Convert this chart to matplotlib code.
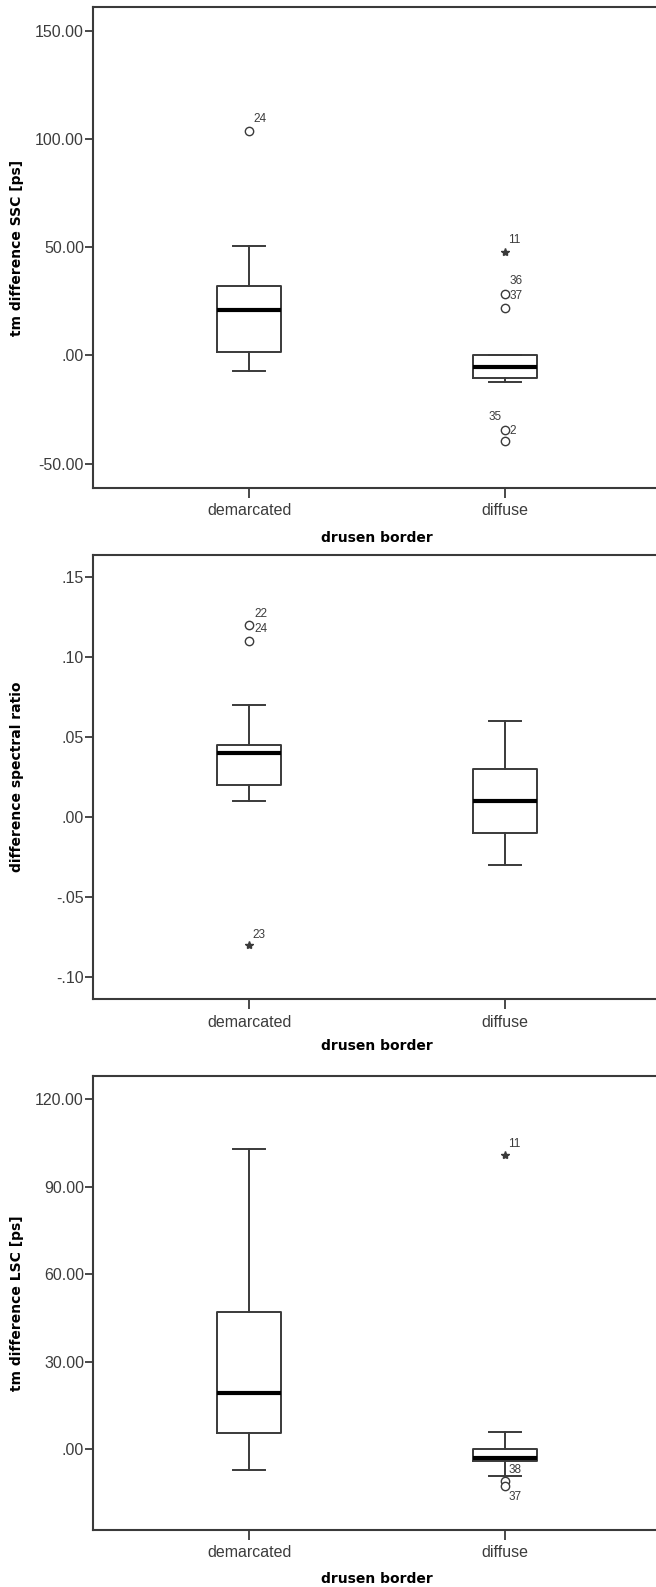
"""
Boxplots of drusen border groups (SSC, spectral ratio, LSC)
"""
import matplotlib.pyplot as plt
from matplotlib.ticker import FuncFormatter, MultipleLocator

groups = ['demarcated', 'diffuse']
x_title = 'drusen border'

# tm difference SSC [ps]
ssc_whislo = [-7.2, -12.4]
ssc_q1 = [1.8, -10.3]
ssc_med = [20.9, -5.1]
ssc_q3 = [32.3, 0.0]
ssc_whishi = [50.8, 0.0]
ssc_out_grp = [0, 1, 1, 1, 1]
ssc_out_val = [103.7, 28.6, 21.9, -34.4, -39.4]
ssc_out_id = ['24', '36', '37', '35', '2']
ssc_ext_grp = [1]
ssc_ext_val = [47.9]
ssc_ext_id = ['11']

# difference spectral ratio
sr_whislo = [0.01, -0.03]
sr_q1 = [0.02, -0.01]
sr_med = [0.04, 0.01]
sr_q3 = [0.045, 0.03]
sr_whishi = [0.07, 0.06]
sr_out_grp = [0, 0]
sr_out_val = [0.12, 0.11]
sr_out_id = ['22', '24']
sr_ext_grp = [0]
sr_ext_val = [-0.08]
sr_ext_id = ['23']

# tm difference LSC [ps]
lsc_whislo = [-7.0, -9.1]
lsc_q1 = [5.5, -4.0]
lsc_med = [19.4, -3.1]
lsc_q3 = [47.1, 0.0]
lsc_whishi = [103.0, 5.9]
lsc_out_grp = [1, 1]
lsc_out_val = [-10.8, -12.7]
lsc_out_id = ['38', '37']
lsc_ext_grp = [1]
lsc_ext_val = [101.0]
lsc_ext_id = ['11']

line_c = '#3a3a3a'
text_c = '#3c3c3c'
narrow = ['Liberation Sans', 'DejaVu Sans']
bold = ['DejaVu Sans']


def spss_fmt(v, pos):
    s = '{:.2f}'.format(v)
    if s.startswith('0.'):
        s = s[1:]
    elif s.startswith('-0.'):
        s = '-' + s[2:]
    if s == '-.00':
        s = '.00'
    return s


def box_panel(rect, ylab, whislo, q1, med, q3, whishi,
              out_grp, out_val, out_id, out_off,
              ext_grp, ext_val, ext_id, ext_off,
              ylim, ystep, xlab_y):
    ax = fig.add_axes(rect)
    stats = []
    for i in range(len(groups)):
        stats.append({'whislo': whislo[i], 'q1': q1[i], 'med': med[i],
                      'q3': q3[i], 'whishi': whishi[i], 'fliers': []})
    ax.bxp(stats, positions=[1, 2], widths=0.25, capwidths=0.125,
           showfliers=False, patch_artist=False,
           boxprops=dict(color=line_c, linewidth=1.4),
           whiskerprops=dict(color=line_c, linewidth=1.4),
           capprops=dict(color=line_c, linewidth=1.4),
           medianprops=dict(color='black', linewidth=3))
    for g, v, lab, off in zip(out_grp, out_val, out_id, out_off):
        ax.plot(g + 1, v, marker='o', markersize=6, mfc='white', mec=line_c,
                mew=1, linestyle='none')
        ax.annotate(lab, (g + 1, v), xytext=off, textcoords='offset points',
                    ha='left' if off[0] > 0 else 'right', va='center',
                    fontsize=8.5, family=narrow, color=text_c)
    for g, v, lab, off in zip(ext_grp, ext_val, ext_id, ext_off):
        ax.plot(g + 1, v, marker='*', markersize=6, color=line_c,
                linestyle='none')
        ax.annotate(lab, (g + 1, v), xytext=off, textcoords='offset points',
                    ha='left', va='center', fontsize=8.5, family=narrow,
                    color=text_c)
    ax.set_xlim(0.388, 2.612)
    ax.set_ylim(*ylim)
    ax.yaxis.set_major_locator(MultipleLocator(ystep))
    ax.yaxis.set_major_formatter(FuncFormatter(spss_fmt))
    ax.set_xticks([1, 2])
    ax.set_xticklabels(groups)
    ax.tick_params(axis='y', length=6, width=1.3, pad=0.5, colors=line_c,
                   labelsize=11.5, labelcolor=text_c)
    ax.tick_params(axis='x', length=7.5, width=1.3, pad=3.5, colors=line_c,
                   labelsize=11.5, labelcolor=text_c)
    for lbl in ax.get_xticklabels() + ax.get_yticklabels():
        lbl.set_family(narrow)
    for sp in ax.spines.values():
        sp.set_color(line_c)
        sp.set_linewidth(1.5)
    ax.set_ylabel(ylab, fontsize=10, fontweight='bold', family=bold,
                  va='center')
    ax.yaxis.set_label_coords(-0.134, 0.5)
    ax.set_xlabel(x_title, fontsize=10, fontweight='bold', family=bold,
                  va='center')
    ax.xaxis.set_label_coords(0.5, xlab_y)
    return ax


fig = plt.figure(figsize=(6.56, 15.87), dpi=100)

box_panel([0.1418, 0.6925, 0.866, 0.3031], 'tm difference SSC [ps]',
          ssc_whislo, ssc_q1, ssc_med, ssc_q3, ssc_whishi,
          ssc_out_grp, ssc_out_val, ssc_out_id,
          [(3, 8.5), (3.5, 9), (3.5, 9), (-2.5, 9.5), (3.5, 7)],
          ssc_ext_grp, ssc_ext_val, ssc_ext_id, [(2.5, 8.5)],
          (-61.3, 161.2), 50, -0.1046)

box_panel([0.1418, 0.3703, 0.866, 0.2800], 'difference spectral ratio',
          sr_whislo, sr_q1, sr_med, sr_q3, sr_whishi,
          sr_out_grp, sr_out_val, sr_out_id, [(3.5, 8), (3.5, 8.5)],
          sr_ext_grp, sr_ext_val, sr_ext_id, [(2.5, 7.5)],
          (-0.1139, 0.1639), 0.05, -0.106)

box_panel([0.1418, 0.0359, 0.866, 0.2861], 'tm difference LSC [ps]',
          lsc_whislo, lsc_q1, lsc_med, lsc_q3, lsc_whishi,
          lsc_out_grp, lsc_out_val, lsc_out_id, [(2.5, 7.5), (2.5, -8)],
          lsc_ext_grp, lsc_ext_val, lsc_ext_id, [(2.5, 7.5)],
          (-27.7, 128.0), 30, -0.108)

fig.savefig('out.png', dpi=100)
